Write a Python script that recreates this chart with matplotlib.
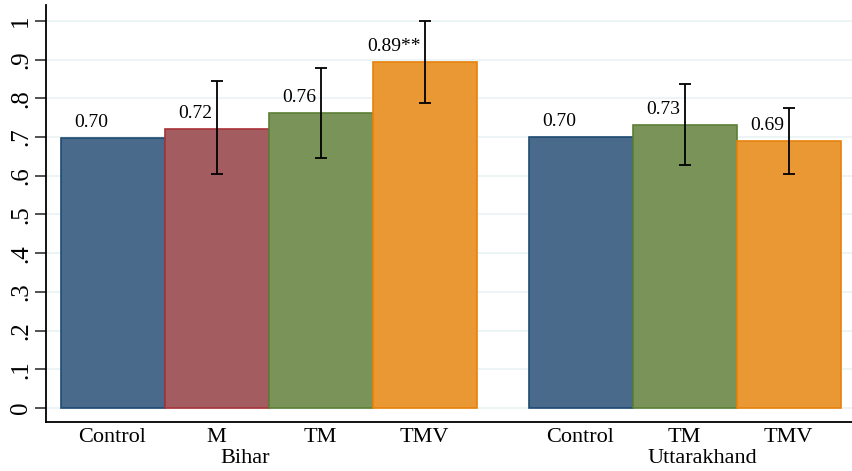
import matplotlib
matplotlib.use('Agg')
import matplotlib.pyplot as plt

# datos
categorias = ['Control', 'M', 'TM', 'TMV', 'Control', 'TM', 'TMV']
posiciones = [0, 1, 2, 3, 4.5, 5.5, 6.5]
valores = [0.697, 0.722, 0.761, 0.893, 0.701, 0.731, 0.689]
etiquetas = ['0.70', '0.72', '0.76', '0.89**', '0.70', '0.73', '0.69']
ic_bajo = [None, 0.605, 0.646, 0.787, None, 0.628, 0.605]
ic_alto = [None, 0.845, 0.877, 1.000, None, 0.837, 0.774]
grupos = ['Bihar', 'Uttarakhand']
pos_grupos = [1.27, 5.67]

relleno = {'Control': '#496a8b', 'M': '#a35d61', 'TM': '#7a9358', 'TMV': '#ea9834'}
borde = {'Control': '#1f4a72', 'M': '#a8323a', 'TM': '#5b7f35', 'TMV': '#e8820c'}

plt.rcParams['font.family'] = ['Liberation Serif', 'DejaVu Serif']

fig = plt.figure(figsize=(8.52, 4.71), dpi=100)
ax = fig.add_axes([46 / 852, 49 / 471, 1 - 46 / 852, 417 / 471])

for y in [i / 10 for i in range(11)]:
    ax.axhline(y, color='#eaf2f3', linewidth=1.2, zorder=0)

for x, v, c in zip(posiciones, valores, categorias):
    ax.bar(x, v, width=1.0, color=relleno[c], edgecolor=borde[c], linewidth=1.2, zorder=2)

for x, lo, hi, v in zip(posiciones, ic_bajo, ic_alto, valores):
    if lo is None:
        continue
    ax.errorbar(x, v, yerr=[[v - lo], [hi - v]], fmt='none', ecolor='black',
                elinewidth=1.3, capsize=4.5, capthick=1.3, zorder=3)

for x, v, t in zip(posiciones, valores, etiquetas):
    ax.annotate(t, (x, v), xytext=(-3, 5), textcoords='offset points',
                ha='right', va='bottom', fontsize=14, zorder=4)

ax.set_xticks(posiciones)
ax.set_xticklabels(categorias, fontsize=16)
ax.tick_params(axis='x', length=0, pad=4)

ticks_y = [i / 10 for i in range(11)]
ax.set_yticks(ticks_y)
ax.set_yticklabels(['0', '.1', '.2', '.3', '.4', '.5', '.6', '.7', '.8', '.9', '1'],
                   fontsize=18, rotation=90, va='center')
ax.tick_params(axis='y', length=8, width=1.2, color='#333333', pad=2)

for x, g in zip(pos_grupos, grupos):
    ax.text(x, -0.106, g, ha='center', va='top', fontsize=16)

ax.set_xlim(-0.64, 7.11)
ax.set_ylim(-0.036, 1.041)
ax.spines['top'].set_visible(False)
ax.spines['right'].set_visible(False)
ax.spines['left'].set_linewidth(1.3)
ax.spines['bottom'].set_linewidth(1.3)

fig.savefig('out.png', dpi=100)
plt.close(fig)
